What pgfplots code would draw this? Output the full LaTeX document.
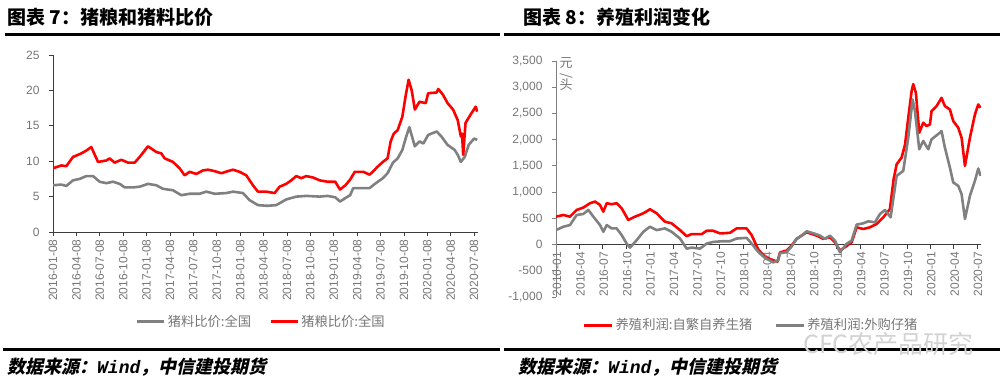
\documentclass[border=0pt]{standalone}
\usepackage{fontspec}
\usepackage{pgfplots}
\pgfplotsset{compat=1.18}
\setmainfont{Liberation Sans}
\newfontfamily\cjk{Noto Sans CJK SC}
\newfontfamily\cjksl{Noto Sans CJK SC}[FakeSlant=0.22]
\newfontfamily\monof{Liberation Mono}
\definecolor{tickgray}{RGB}{118,118,118}
\definecolor{lgray}{RGB}{128,128,128}
\definecolor{axdark}{RGB}{60,60,60}
\begin{document}
\begin{tikzpicture}
\useasboundingbox (0pt,0pt) rectangle (1007pt,-384pt);
% titles and rules
\node[anchor=base west, inner sep=0pt] at (7pt,-24.5pt) {\cjk\bfseries\fontsize{19}{19}\selectfont 图表 7：猪粮和猪料比价};
\node[anchor=base west, inner sep=0pt] at (523pt,-24.5pt) {\cjk\bfseries\fontsize{19}{19}\selectfont 图表 8：养殖利润变化};
\draw[line width=2.7pt] (5pt,-34.5pt) -- (500pt,-34.5pt);
\draw[line width=2.7pt] (504pt,-34.5pt) -- (1000pt,-34.5pt);
\draw[line width=3pt] (3pt,-349.2pt) -- (500pt,-349.2pt);
\draw[line width=3pt] (504pt,-349.2pt) -- (1000pt,-349.2pt);
\node[anchor=base west, inner sep=0pt] at (7pt,-373.5pt) {\cjksl\bfseries\fontsize{18}{18}\selectfont 数据来源：{\monof\bfseries\itshape Wind}，中信建投期货};
\node[anchor=base west, inner sep=0pt] at (518pt,-373.5pt) {\cjksl\bfseries\fontsize{18}{18}\selectfont 数据来源：{\monof\bfseries\itshape Wind}，中信建投期货};

% ---------- left chart ----------
\begin{axis}[
  at={(53pt,-232pt)}, anchor=south west, scale only axis,
  width=425pt, height=177pt,
  xmin=0, xmax=54.5, ymin=0, ymax=25,
  axis x line*=bottom, axis y line*=left,
  axis line style={axdark, line width=0.8pt},
  tick style={axdark, line width=0.8pt},
  tick align=outside, major tick length=4pt,
  xtick={0,3,...,54},
  xticklabels={2016-01-08,2016-04-08,2016-07-08,2016-10-08,2017-01-08,2017-04-08,2017-07-08,2017-10-08,2018-01-08,2018-04-08,2018-07-08,2018-10-08,2019-01-08,2019-04-08,2019-07-08,2019-10-08,2020-01-08,2020-04-08,2020-07-08},
  x tick label style={rotate=90, anchor=east, font=\fontsize{12}{12}\selectfont, text=tickgray},
  ytick={0,5,...,25},
  y tick label style={font=\fontsize{12}{12}\selectfont, text=tickgray, xshift=-6pt},
  /pgf/number format/assume math mode=true,
  legend style={draw=none, fill=none, at={(0.49,-0.508)}, anchor=center, legend columns=2,
    font=\cjk\fontsize{13.3}{13.3}\selectfont, text=tickgray,
    /tikz/every even column/.append style={column sep=16pt}},
  legend image code/.code={\draw[#1, line width=3pt] (0pt,0pt) -- (27pt,0pt);},
]
\addplot[lgray, line width=2.6pt, line join=round] coordinates {
(0,6.6)(1.07,6.7)(1.71,6.5)(2.56,7.3)(3.42,7.5)(4.27,7.9)(5.13,7.9)(5.98,7.1)(6.84,6.9)(7.69,7.1)(8.55,6.8)(9.19,6.3)(10.26,6.3)(11.11,6.4)(12.18,6.8)(13.25,6.6)(14.10,6.1)(15.38,5.9)(16.45,5.2)(17.52,5.4)(18.80,5.4)(19.66,5.7)(20.73,5.4)(22.22,5.5)(23.08,5.7)(24.36,5.5)(25.21,4.5)(26.28,3.8)(27.5,3.7)(28.63,3.8)(29.27,4.2)(29.91,4.6)(31.20,5.0)(32.48,5.1)(34.19,5.0)(35.2,5.1)(36.2,4.9)(36.8,4.3)(37.5,4.8)(38.1,5.2)(38.5,6.2)(39.4,6.2)(40.6,6.2)(41.4,6.9)(42.3,7.6)(42.9,8.3)(43.6,9.8)(44.2,10.4)(44.8,11.6)(45.3,13.5)(45.7,14.8)(46.4,12.1)(47.0,12.8)(47.5,12.5)(48.1,13.7)(49.2,14.2)(49.8,13.5)(50.6,12.3)(51.5,11.6)(51.9,10.9)(52.3,9.9)(52.8,10.6)(53.3,12.3)(54.0,13.2)(54.4,13.0)
};
\addlegendentry{猪料比价:全国}
\addplot[red, line width=2.6pt, line join=round] coordinates {
(0,9.0)(1.07,9.4)(1.71,9.3)(2.56,10.6)(3.63,11.1)(4.27,11.5)(4.91,12.0)(5.77,9.9)(6.84,10.1)(7.26,10.4)(7.91,9.8)(8.76,10.2)(9.62,9.8)(10.47,9.8)(11.11,10.6)(12.18,12.1)(13.25,11.3)(13.89,11.1)(14.32,10.4)(15.38,9.9)(16.24,9.0)(16.88,8.0)(17.52,8.5)(18.38,8.2)(19.23,8.7)(19.87,8.8)(20.73,8.6)(21.58,8.3)(22.44,8.6)(23.08,8.8)(23.93,8.5)(24.79,8.0)(25.64,6.6)(26.28,5.7)(27.35,5.7)(28.42,5.5)(29.06,6.4)(29.91,6.8)(30.56,7.3)(31.20,7.9)(31.84,7.6)(32.48,7.9)(33.33,7.7)(34.19,7.3)(35.2,7.1)(36.2,7.1)(36.8,6.0)(37.5,6.6)(38.1,7.4)(38.7,8.5)(39.8,8.5)(40.6,8.1)(41.0,8.5)(41.6,9.2)(42.3,9.9)(42.9,10.4)(43.3,12.8)(43.7,13.9)(44.2,14.4)(44.8,16.3)(45.2,19.1)(45.6,21.5)(46.0,20.0)(46.4,17.3)(47.0,18.4)(47.8,18.2)(48.1,19.6)(49.2,19.7)(49.4,20.2)(50.0,19.4)(50.6,18.2)(51.3,17.3)(51.9,15.8)(52.3,13.5)(52.45,13.9)(52.6,10.9)(52.9,15.4)(53.5,16.5)(54.2,17.7)(54.4,17.0)
};
\addlegendentry{猪粮比价:全国}
\end{axis}

% ---------- right chart ----------
\begin{axis}[
  at={(556pt,-297pt)}, anchor=south west, scale only axis,
  width=425pt, height=236pt,
  xmin=0, xmax=54.5, ymin=-1000, ymax=3500,
  axis x line*=middle, axis y line*=left,
  hide obscured x ticks=false,
  x axis line style={axdark, line width=0.8pt},
  y axis line style={lgray, line width=1pt},
  xtick style={axdark, line width=0.8pt},
  ytick style={lgray, line width=1pt},
  tick align=outside, major tick length=4pt,
  xtick={0,3,...,54},
  xticklabels={2016-01,2016-04,2016-07,2016-10,2017-01,2017-04,2017-07,2017-10,2018-01,2018-04,2018-07,2018-10,2019-01,2019-04,2019-07,2019-10,2020-01,2020-04,2020-07},
  x tick label style={rotate=90, anchor=east, font=\fontsize{12}{12}\selectfont, text=tickgray, yshift=-1pt},
  ytick={-1000,-500,...,3500},
  y tick label style={font=\fontsize{12}{12}\selectfont, text=tickgray, xshift=-6pt},
  /pgf/number format/assume math mode=true,
  /pgf/number format/1000 sep={,},
  legend style={draw=none, fill=none, at={(0.459,-0.119)}, anchor=center, legend columns=2,
    font=\cjk\fontsize{13.3}{13.3}\selectfont, text=tickgray,
    /tikz/every even column/.append style={column sep=20pt}},
  legend image code/.code={\draw[#1, line width=3pt] (0pt,0pt) -- (28pt,0pt);},
]
\addplot[red, line width=2.6pt, line join=round] coordinates {
(0,532)(0.94,564)(1.79,532)(2.65,660)(3.5,705)(4.36,788)(5.0,820)(5.64,756)(6.07,628)(6.5,788)(7.14,769)(7.78,788)(8.42,692)(9.27,468)(10.13,532)(11.2,596)(12.05,673)(12.91,596)(13.97,436)(14.83,404)(15.9,276)(16.75,160)(17.39,199)(18.68,199)(19.32,263)(20.17,263)(21.03,212)(22.31,224)(23.16,308)(24.44,308)(25.09,180)(25.94,-96)(26.8,-237)(27.86,-300)(28.4,-325)(28.72,-150)(29.57,-114)(30.21,-19)(30.85,108)(31.5,171)(32.14,234)(32.78,203)(33.42,171)(34.27,108)(35.13,139)(35.77,44)(36.41,-114)(37.05,-51)(37.91,44)(38.55,329)(39.4,297)(40.26,329)(41.11,392)(41.97,519)(42.82,677)(43.3,1250)(43.68,1530)(44.32,1660)(44.75,1900)(45.2,2450)(45.6,2924)(45.81,3060)(46.15,2893)(46.58,2133)(47.09,2323)(47.52,2260)(47.95,2291)(48.16,2545)(48.8,2640)(49.44,2798)(49.87,2640)(50.51,2576)(50.94,2355)(51.58,2228)(52.01,2038)(52.44,1500)(53.08,2038)(53.72,2481)(54.15,2671)(54.44,2608)
};
\addlegendentry{养殖利润:自繁自养生猪}
\addplot[lgray, line width=2.6pt, line join=round] coordinates {
(0,276)(0.94,340)(1.79,372)(2.65,564)(3.5,583)(4.15,660)(4.79,532)(5.64,372)(6.07,244)(6.5,372)(7.14,308)(7.78,308)(8.42,180)(9.06,19)(9.49,-58)(10.34,83)(11.2,244)(12.05,340)(12.91,276)(13.97,308)(14.83,244)(15.9,115)(16.75,-77)(17.39,-58)(18.46,-77)(19.32,19)(20.17,51)(21.45,64)(22.31,64)(23.16,115)(24.44,128)(25.09,19)(25.94,-141)(26.8,-256)(27.86,-340)(28.5,-300)(28.72,-165)(29.57,-146)(30.21,-38)(30.85,108)(31.5,171)(32.14,253)(33.0,215)(33.85,171)(34.49,108)(35.13,171)(35.77,76)(36.41,-146)(37.26,13)(37.91,76)(38.55,380)(39.4,405)(40.04,443)(40.9,424)(41.54,582)(42.18,658)(42.91,519)(43.68,1310)(44.53,1405)(45.17,2038)(45.73,2766)(46.03,2545)(46.58,1817)(47.09,1975)(47.74,1817)(48.16,2007)(49.23,2133)(49.44,2165)(49.87,1848)(50.51,1469)(50.94,1184)(51.58,1120)(52.01,962)(52.44,487)(53.08,930)(53.72,1215)(54.15,1450)(54.44,1310)
};
\addlegendentry{养殖利润:外购仔猪}
\end{axis}
% unit label
\node[anchor=north, inner sep=0pt, text=tickgray, align=center, font=\cjk\fontsize{13}{12}\selectfont] at (566pt,-57pt) {元\\[-1pt]\rotatebox{90}{/}\\[-1pt]头};
% watermark
\node[anchor=base west, inner sep=0pt, text=gray!35] at (803pt,-353pt) {\cjk\fontsize{25}{25}\selectfont CFC农产品研究};
\end{tikzpicture}
\end{document}
